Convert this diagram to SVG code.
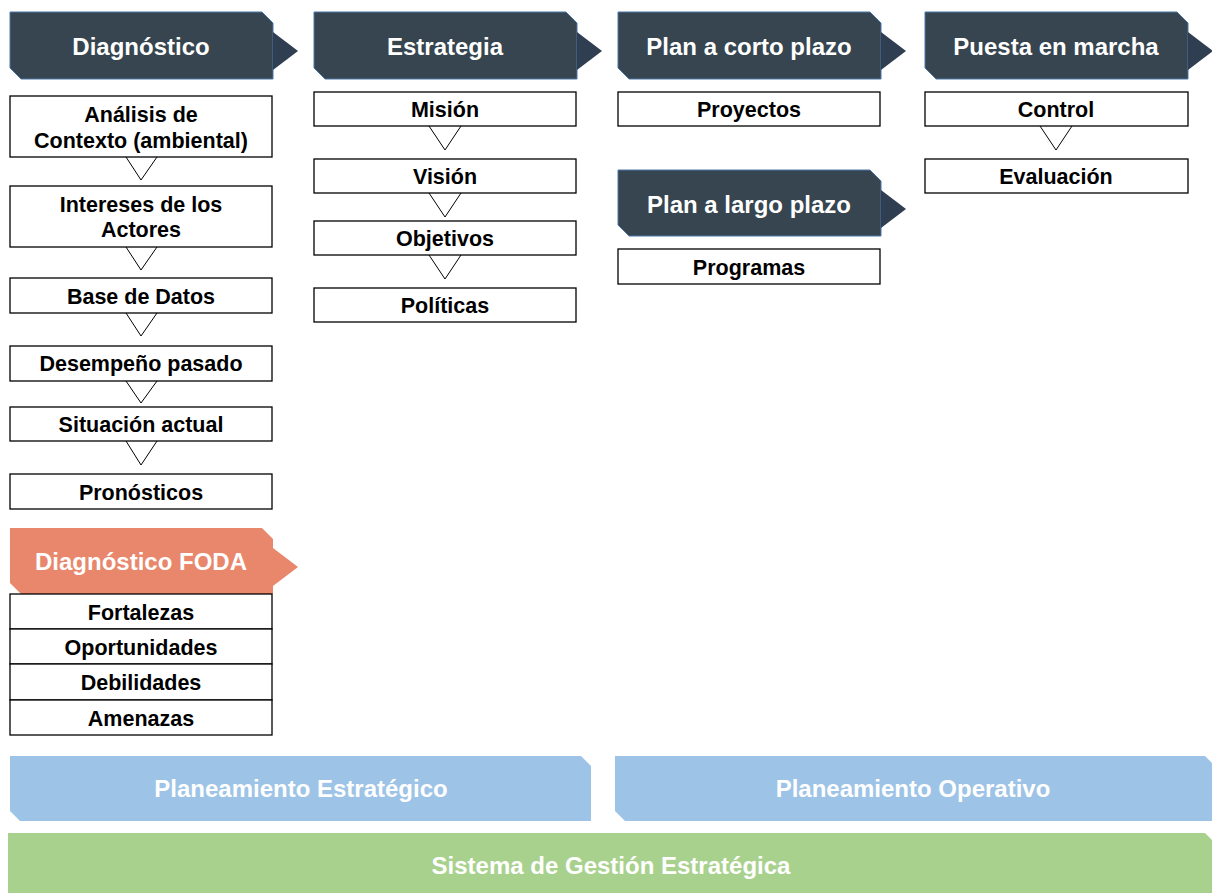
<svg xmlns="http://www.w3.org/2000/svg" width="1212" height="893" viewBox="0 0 1212 893">
<style>
text{font-family:"Liberation Sans",Arial,sans-serif;font-weight:bold;text-anchor:middle}
.hd{fill:#36454f;stroke:#4a78a8;stroke-width:1}
.ar{fill:#2f3e50}
.foda{fill:#e8876b}
.far{fill:#e8876b}
.ht{fill:#ffffff;font-size:24px}
.bx{fill:#ffffff;stroke:#000000;stroke-width:1.3}
.bt{fill:#000000;font-size:21.5px}
.cn{fill:#ffffff;stroke:#000000;stroke-width:1}
.blue{fill:#9dc3e6}
.green{fill:#a9d18e}
</style>

<g id="diagnostico">
<path class="hd" d="M10,12 H262 L273,23 V79 H21 L10,68 Z"/>
<path class="ar" d="M273,32 L298,51 L273,70 Z"/>
<text class="ht" x="141" y="55">Diagnóstico</text>
</g>
<g id="estrategia">
<path class="hd" d="M314,12 H566 L577,23 V79 H325 L314,68 Z"/>
<path class="ar" d="M577,32 L602,51 L577,70 Z"/>
<text class="ht" x="445" y="55">Estrategia</text>
</g>
<g id="plan-corto">
<path class="hd" d="M618,12 H870 L881,23 V79 H629 L618,68 Z"/>
<path class="ar" d="M881,32 L906,51 L881,70 Z"/>
<text class="ht" x="749" y="55">Plan a corto plazo</text>
</g>
<g id="puesta-marcha">
<path class="hd" d="M925,12 H1177 L1188,23 V79 H936 L925,68 Z"/>
<path class="ar" d="M1188,32 L1213,51 L1188,70 Z"/>
<text class="ht" x="1056" y="55">Puesta en marcha</text>
</g>
<g id="plan-largo">
<path class="hd" d="M618,170 H870 L881,181 V236 H629 L618,225 Z"/>
<path class="ar" d="M881,190 L906,209 L881,228 Z"/>
<text class="ht" x="749" y="213">Plan a largo plazo</text>
</g>
<g id="foda">
<path class="foda" d="M10,528 H262 L273,539 V594 H21 L10,583 Z"/>
<path class="far" d="M273,548 L298,567 L273,586 Z"/>
<text class="ht" x="141" y="570">Diagnóstico FODA</text>
</g>

<g id="connectors">
<path class="cn" d="M126,157 L141,180 L157,157"/>
<path class="cn" d="M126,247 L141,270 L157,247"/>
<path class="cn" d="M126,313 L141,336 L157,313"/>
<path class="cn" d="M126,381 L141,403 L157,381"/>
<path class="cn" d="M126,441 L141,465 L157,441"/>
<path class="cn" d="M429,126 L445,150 L461,126"/>
<path class="cn" d="M429,193 L445,217 L461,193"/>
<path class="cn" d="M429,255 L445,279 L461,255"/>
<path class="cn" d="M1040,126 L1056,150 L1072,126"/>
</g>

<g id="analisis"><rect class="bx" x="10" y="96" width="262" height="61"/><text class="bt" x="141" y="122">Análisis de</text><text class="bt" x="141" y="148">Contexto (ambiental)</text></g>
<g id="intereses"><rect class="bx" x="10" y="186" width="262" height="61"/><text class="bt" x="141" y="212">Intereses de los</text><text class="bt" x="141" y="237">Actores</text></g>
<g id="base-datos"><rect class="bx" x="10" y="278" width="262" height="35"/><text class="bt" x="141" y="304">Base de Datos</text></g>
<g id="desempeno"><rect class="bx" x="10" y="346" width="262" height="35"/><text class="bt" x="141" y="371">Desempeño pasado</text></g>
<g id="situacion"><rect class="bx" x="10" y="407" width="262" height="34"/><text class="bt" x="141" y="432">Situación actual</text></g>
<g id="pronosticos"><rect class="bx" x="10" y="474" width="262" height="35"/><text class="bt" x="141" y="500">Pronósticos</text></g>

<g id="fortalezas"><rect class="bx" x="10" y="594" width="262" height="35"/><text class="bt" x="141" y="620">Fortalezas</text></g>
<g id="oportunidades"><rect class="bx" x="10" y="629" width="262" height="35"/><text class="bt" x="141" y="655">Oportunidades</text></g>
<g id="debilidades"><rect class="bx" x="10" y="664" width="262" height="36"/><text class="bt" x="141" y="690">Debilidades</text></g>
<g id="amenazas"><rect class="bx" x="10" y="700" width="262" height="35"/><text class="bt" x="141" y="726">Amenazas</text></g>

<g id="mision"><rect class="bx" x="314" y="92" width="262" height="34"/><text class="bt" x="445" y="117">Misión</text></g>
<g id="vision"><rect class="bx" x="314" y="159" width="262" height="34"/><text class="bt" x="445" y="184">Visión</text></g>
<g id="objetivos"><rect class="bx" x="314" y="221" width="262" height="34"/><text class="bt" x="445" y="246">Objetivos</text></g>
<g id="politicas"><rect class="bx" x="314" y="288" width="262" height="34"/><text class="bt" x="445" y="313">Políticas</text></g>

<g id="proyectos"><rect class="bx" x="618" y="92" width="262" height="34"/><text class="bt" x="749" y="117">Proyectos</text></g>
<g id="programas"><rect class="bx" x="618" y="249" width="262" height="35"/><text class="bt" x="749" y="275">Programas</text></g>

<g id="control"><rect class="bx" x="925" y="92" width="263" height="34"/><text class="bt" x="1056" y="117">Control</text></g>
<g id="evaluacion"><rect class="bx" x="925" y="159" width="263" height="34"/><text class="bt" x="1056" y="184">Evaluación</text></g>

<g id="planeamiento-estrategico">
<path class="blue" d="M10,756 H581 L591,766 V821 H20 L10,811 Z"/>
<text class="ht" x="301" y="797">Planeamiento Estratégico</text>
</g>
<g id="planeamiento-operativo">
<path class="blue" d="M615,756 H1205 L1215,766 V821 H625 L615,811 Z"/>
<text class="ht" x="913" y="797">Planeamiento Operativo</text>
</g>
<g id="sistema-gestion">
<path class="green" d="M8,833 H1205 L1215,843 V900 H8 Z"/>
<text class="ht" x="611" y="874">Sistema de Gestión Estratégica</text>
</g>
</svg>
